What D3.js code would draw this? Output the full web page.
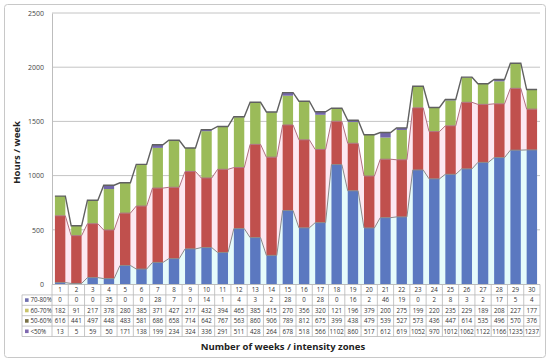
<!DOCTYPE html>
<html>
<head>
<meta charset="utf-8">
<script src="https://cdn.jsdelivr.net/npm/d3@7"></script>
<style>
  body { margin: 0; background: #fff; }
  text { font-family: "Open Sans", "DejaVu Sans", sans-serif; }
</style>
</head>
<body>
<script>
let weeks = d3.range(1, 31);

let z7080 = [0,0,0,35,0,0,28,7,0,14,1,4,3,2,28,0,28,0,16,2,46,19,0,2,8,3,2,17,5,4];
let z6070 = [182,91,217,378,280,385,371,427,217,432,394,465,385,415,270,356,320,121,196,379,200,275,199,220,235,229,189,208,227,177];
let z5060 = [616,441,497,448,483,581,686,658,714,642,767,563,860,906,789,812,675,399,438,479,539,527,573,436,447,614,535,496,570,376];
let z50 = [13,5,59,50,171,138,199,234,324,336,291,511,428,264,678,518,566,1102,860,517,612,619,1052,970,1012,1062,1122,1166,1235,1237];

let yTicks = [0, 500, 1000, 1500, 2000, 2500];

let series = [
  {name: "<50%", values: z50, color: "#5b78c0", key: "#7f68b0"},
  {name: "50-60%", values: z5060, color: "#c0504d", key: "#7a7246"},
  {name: "60-70%", values: z6070, color: "#9bbb59", key: "#c9c36a"},
  {name: "70-80%", values: z7080, color: "#7266a8", key: "#6f6fae"}
];

let width = 550, height = 361;
let plotLeft = 52, plotRight = 540, plotTop = 13, plotBottom = 284;

let svg = d3.select("body").append("svg")
  .attr("width", width)
  .attr("height", height);

// outer frame
svg.append("rect")
  .attr("x", 4.5).attr("y", 4.5)
  .attr("width", 541).attr("height", 353)
  .attr("rx", 3)
  .style("fill", "none")
  .style("stroke", "#c8c8c8");

let x = d3.scaleBand().domain(weeks).range([plotLeft, plotRight]).paddingInner(0.36).paddingOuter(0.18);
let col = d3.scaleBand().domain(weeks).range([plotLeft, plotRight]);
let y = d3.scaleLinear().domain([0, 2500]).range([plotBottom, plotTop]);

// grid
svg.append("g")
  .selectAll("line")
  .data(yTicks.slice(1))
  .enter()
  .append("line")
    .attr("x1", plotLeft).attr("x2", plotRight)
    .attr("y1", (d) => y(d)).attr("y2", (d) => y(d))
    .style("stroke", "#c4c4c4")
    .style("stroke-width", 1);

let yAxis = svg.append("g")
  .attr("transform", `translate(${plotLeft},0)`)
  .call(d3.axisLeft(y).tickValues(yTicks).tickFormat(d3.format("d")).tickSize(0).tickPadding(8));
yAxis.select(".domain").style("stroke", "#bdbdbd");
yAxis.selectAll("text").style("font-size", "7px").style("fill", "#444");

// cumulative stack
let stack = d3.stack().keys([0, 1, 2, 3]).value((d, k) => series[k].values[d - 1]);
let stacked = stack(weeks);

// faint fills between lines
let stepPoints = (lvl) => {
  let pts = [];
  weeks.forEach((w, i) => {
    pts.push([x(w), lvl[i]]);
    pts.push([x(w) + x.bandwidth(), lvl[i]]);
  });
  return pts;
};

let lvl1 = stacked[0].map((d) => d[1]);
let lvl2 = stacked[1].map((d) => d[1]);
let lvl4 = stacked[3].map((d) => d[1]);

let area = d3.area().x((d) => d[0]).y0((d) => y(d[2])).y1((d) => y(d[1]));

let p1 = stepPoints(lvl1);
let p2 = stepPoints(lvl2);
svg.append("path")
  .datum(p1.map((p) => [p[0], p[1], 0]))
  .attr("d", area)
  .style("fill", "#e6fbfb");
svg.append("path")
  .datum(p2.map((p, i) => [p[0], p[1], p1[i][1]]))
  .attr("d", area)
  .style("fill", "#fde8f2");

// bars
svg.append("g")
  .selectAll("g")
  .data(stacked)
  .enter()
  .append("g")
    .style("fill", (d) => series[d.key].color)
  .selectAll("rect")
  .data((d) => d)
  .enter()
  .append("rect")
    .attr("x", (d) => x(d.data))
    .attr("width", x.bandwidth())
    .attr("y", (d) => y(d[1]))
    .attr("height", (d) => y(d[0]) - y(d[1]));

// lines on stack levels
let line = d3.line().x((d) => d[0]).y((d) => y(d[1]));
[[lvl1, "#8a8a8a", 1], [lvl2, "#b07080", 1], [lvl4, "#606060", 1.4]].forEach(([lvl, c, w]) => {
  svg.append("path")
    .datum(stepPoints(lvl))
    .attr("d", line)
    .style("fill", "none")
    .style("stroke", c)
    .style("stroke-width", w);
});

// x axis line
svg.append("line")
  .attr("x1", plotLeft).attr("x2", plotRight)
  .attr("y1", plotBottom + 0.5).attr("y2", plotBottom + 0.5)
  .style("stroke", "#bdbdbd");

// data table
let rowH = 10.4;
let tableTop = plotBottom + 0.5;
let rows = [series[3], series[2], series[1], series[0]];
let tableLeft = 22;
let tableBottom = tableTop + rowH * 5;
let tbl = svg.append("g").style("font-size", "6.2px").style("fill", "#333");

// header numbers
tbl.selectAll(".hd")
  .data(weeks)
  .enter()
  .append("text")
    .attr("x", (d) => col(d) + col.bandwidth() / 2)
    .attr("y", tableTop + rowH / 2 + 2.2)
    .attr("text-anchor", "middle")
    .text((d) => d);

rows.forEach((s, r) => {
  let ry = tableTop + rowH * (r + 1);
  tbl.selectAll(".c" + r)
    .data(weeks)
    .enter()
    .append("text")
      .attr("x", (d) => col(d) + col.bandwidth() / 2)
      .attr("y", ry + rowH / 2 + 2.2)
      .attr("text-anchor", "middle")
      .text((d) => s.values[d - 1]);
  tbl.append("rect")
    .attr("x", tableLeft + 3).attr("y", ry + rowH / 2 - 1.8)
    .attr("width", 3.6).attr("height", 3.6)
    .style("fill", s.key);
  tbl.append("text")
    .attr("x", tableLeft + 8.5)
    .attr("y", ry + rowH / 2 + 2.2)
    .text(s.name);
});

let gridC = "#b8b8b8";
// horizontal table lines
d3.range(1, 6).forEach((i) => {
  svg.append("line")
    .attr("x1", tableLeft).attr("x2", plotRight)
    .attr("y1", tableTop + rowH * i).attr("y2", tableTop + rowH * i)
    .style("stroke", gridC).style("stroke-width", 0.8);
});
// vertical table lines
weeks.concat([31]).forEach((w, i) => {
  let xx = plotLeft + col.bandwidth() * i;
  svg.append("line")
    .attr("x1", xx).attr("x2", xx)
    .attr("y1", tableTop).attr("y2", tableBottom)
    .style("stroke", gridC).style("stroke-width", 0.8);
});
svg.append("line")
  .attr("x1", tableLeft).attr("x2", tableLeft)
  .attr("y1", tableTop + rowH).attr("y2", tableBottom)
  .style("stroke", gridC).style("stroke-width", 0.8);

// titles
svg.append("text")
  .attr("transform", `translate(20,${(plotTop + plotBottom) / 2 + 4}) rotate(-90)`)
  .attr("text-anchor", "middle")
  .style("font-size", "9.5px")
  .style("font-weight", 700)
  .style("fill", "#222")
  .text("Hours / week");

svg.append("text")
  .attr("x", 283)
  .attr("y", 350)
  .attr("text-anchor", "middle")
  .style("font-size", "9.5px")
  .style("font-weight", 700)
  .style("fill", "#222")
  .text("Number of weeks / intensity zones");
</script>
</body>
</html>
